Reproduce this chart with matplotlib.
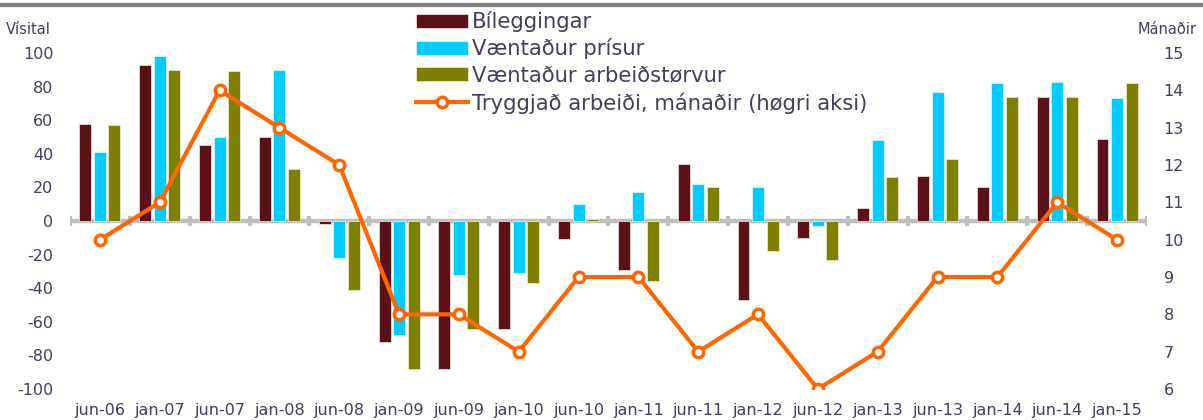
import matplotlib
matplotlib.use("Agg")
import matplotlib.pyplot as plt
import numpy as np

# =========================
# Data
# =========================
periods = ["jun-06", "jan-07", "jun-07", "jan-08", "jun-08", "jan-09",
           "jun-09", "jan-10", "jun-10", "jan-11", "jun-11", "jan-12",
           "jun-12", "jan-13", "jun-13", "jan-14", "jun-14", "jan-15"]
bileggingar = [58, 93, 45, 50, -2, -72, -88, -64, -11, -29, 34, -47,
               -10, 8, 27, 20, 74, 49]
prisur = [41, 98, 50, 90, -22, -68, -32, -31, 10, 17, 22, 20,
          -3, 48, 77, 82, 83, 73]
arbeidstorvur = [57, 90, 89, 31, -41, -88, -64, -37, 1, -36, 20, -18,
                 -23, 26, 37, 74, 74, 82]
tryggjad = [10, 11, 14, 13, 12, 8, 8, 7, 9, 9, 7, 8, 6, 7, 9, 9, 11, 10]

TEXT = "#3F3F5F"
GRAY = "#BFBFBF"
C_BIL = "#5A1218"
C_PRIS = "#00CCFF"
C_ARB = "#808000"
C_LINE = "#FF6600"

plt.rcParams["font.family"] = ["DejaVu Sans"]
plt.rcParams["axes.unicode_minus"] = False

fig = plt.figure(figsize=(12.03, 4.2), dpi=100)
ax = fig.add_axes([0.0582, 0.0738, 0.8952, 0.80])
ax2 = ax.twinx()

x = np.arange(len(periods))
w = 0.2
off = 0.243
b1 = ax.bar(x - off, bileggingar, w, color=C_BIL, edgecolor="#E8D8D8", linewidth=0.6,
            label="Bíleggingar", zorder=3)
b2 = ax.bar(x, prisur, w, color=C_PRIS, edgecolor="#D8F6FF", linewidth=0.6,
            label="Væntaður prísur", zorder=3)
b3 = ax.bar(x + off, arbeidstorvur, w, color=C_ARB, edgecolor="#E6E6C8", linewidth=0.6,
            label="Væntaður arbeiðstørvur", zorder=3)

# zero line with boundary marks
ax.axhline(0, color=GRAY, lw=3.2, zorder=2)
ax.vlines(np.arange(len(periods) + 1) - 0.5, -2.8, 2.8, color=GRAY, lw=3, zorder=2)

ln, = ax2.plot(x, tryggjad, color=C_LINE, lw=3, marker="o", ms=7.5,
               mfc="white", mec=C_LINE, mew=2.5,
               label="Tryggjað arbeiði, mánaðir (høgri aksi)")

ax.set_xlim(-0.5, len(periods) - 0.5)
ax.set_ylim(-100, 100)
ax.set_yticks(np.arange(-100, 101, 20))
ax2.set_ylim(6, 15)
ax2.set_yticks(np.arange(6, 16, 1))
ax.set_xticks(x)
ax.set_xticklabels(periods)

for a in (ax, ax2):
    for s in a.spines.values():
        s.set_visible(False)
ax.tick_params(axis="x", length=0, labelsize=11.5, colors=TEXT, pad=10)
ax.tick_params(axis="y", length=0, labelsize=11.5, colors=TEXT, pad=12)
ax2.tick_params(axis="y", length=0, labelsize=11.5, colors=TEXT, pad=12)

fig.text(6 / 1203, 1 - 30 / 420, "Vísital", fontsize=10.5, color=TEXT, va="center", ha="left")
fig.text(1197 / 1203, 1 - 30 / 420, "Mánaðir", fontsize=10.5, color=TEXT, va="center", ha="right")

# top border line of the original slide
fig.add_artist(plt.Line2D([0, 1], [1 - 5 / 420, 1 - 5 / 420], transform=fig.transFigure,
                          color="#808080", lw=3))

leg = ax2.legend(handles=[b1, b2, b3, ln], loc="upper left",
                 bbox_to_anchor=(416 / 1203, 1 - 11 / 420), bbox_transform=fig.transFigure,
                 frameon=False, fontsize=15.2, handlelength=2.45, handleheight=0.65,
                 handletextpad=0.2, labelspacing=0.3, borderpad=0, borderaxespad=0)
for t in leg.get_texts():
    t.set_color(TEXT)

fig.savefig("out.png", dpi=100)
